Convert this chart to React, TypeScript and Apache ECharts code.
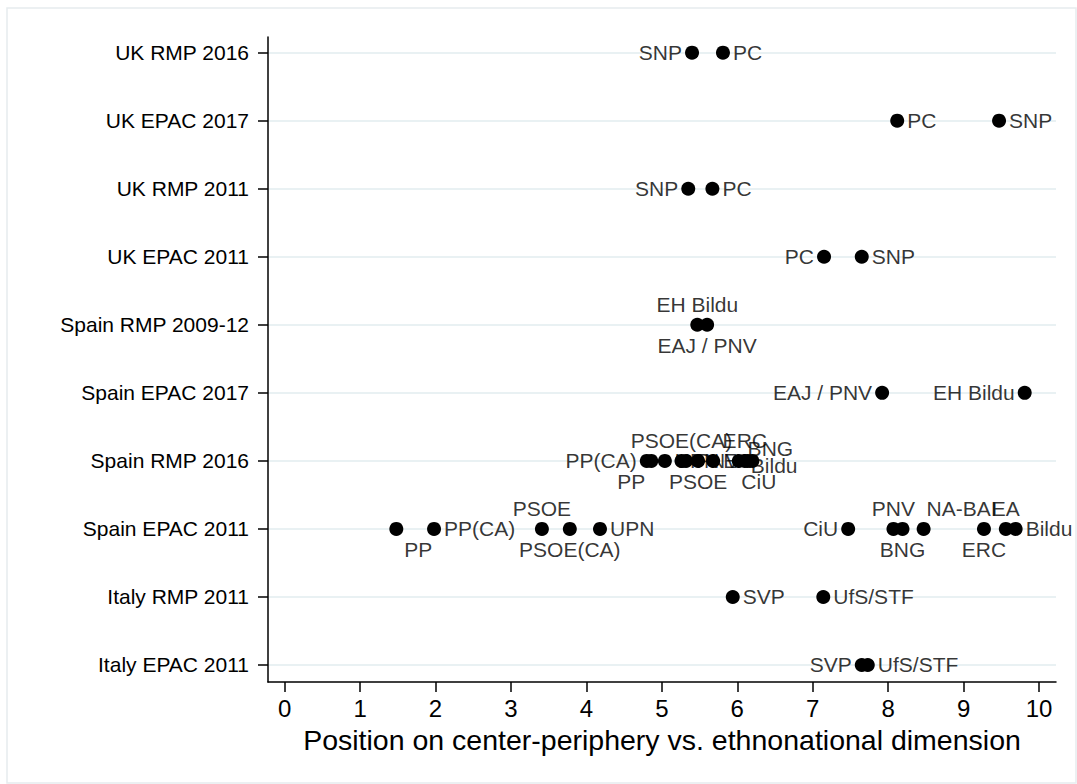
import React, { useEffect, useRef } from "react";
import * as echarts from "echarts";

const rowNames = [
  "UK RMP 2016",
  "UK EPAC 2017",
  "UK RMP 2011",
  "UK EPAC 2011",
  "Spain RMP 2009-12",
  "Spain EPAC 2017",
  "Spain RMP 2016",
  "Spain EPAC 2011",
  "Italy RMP 2011",
  "Italy EPAC 2011",
];

const xTicks = [0, 1, 2, 3, 4, 5, 6, 7, 8, 9, 10];

const pointRow = [
  0, 0,
  1, 1,
  2, 2,
  3, 3,
  4, 4,
  5, 5,
  6, 6, 6, 6, 6, 6, 6, 6, 6, 6, 6,
  7, 7, 7, 7, 7, 7, 7, 7, 7, 7, 7, 7,
  8, 8,
  9, 9,
];

const pointParty = [
  "SNP", "PC",
  "PC", "SNP",
  "SNP", "PC",
  "PC", "SNP",
  "EH Bildu", "EAJ / PNV",
  "EAJ / PNV", "EH Bildu",
  "PP(CA)", "PP", "UPN", "PSOE(CA)", "PNV", "PSOE", "EA", "ERC", "CiU", "Bildu", "BNG",
  "PP", "PP(CA)", "PSOE", "PSOE(CA)", "UPN", "CiU", "PNV", "BNG", "NA-BAI", "ERC", "EA", "Bildu",
  "SVP", "UfS/STF",
  "SVP", "UfS/STF",
];

const pointValue = [
  5.40, 5.81,
  8.12, 9.47,
  5.35, 5.67,
  7.15, 7.65,
  5.47, 5.60,
  7.92, 9.81,
  4.80, 4.86, 5.04, 5.26, 5.32, 5.48, 5.68, 6.02, 6.10, 6.14, 6.20,
  1.48, 1.98, 3.41, 3.78, 4.18, 7.47, 8.07, 8.19, 8.47, 9.27, 9.56, 9.69,
  5.94, 7.14,
  7.65, 7.73,
];

// label placement (style only): [position, dx, dy]
const labelPlacement: [string, number, number][] = [
  ["left", 0, 0], ["right", 0, 0],
  ["right", 0, 0], ["right", 0, 0],
  ["left", 0, 0], ["right", 0, 0],
  ["left", 0, 0], ["right", 0, 0],
  ["top", 0, 0], ["bottom", 0, 0],
  ["left", 0, 0], ["left", 0, 0],
  ["left", 0, 0], ["bottom", -20, 0], ["right", 0, 0], ["top", 0, 0], ["right", 0, 0],
  ["bottom", 0, 0], ["right", 0, 0], ["top", 6, 0], ["bottom", 14, 0], ["right", -7, 5], ["top", 18, 8],
  ["bottom", 22, 0], ["right", 0, 0], ["top", 0, 0], ["bottom", 0, 0], ["right", 0, 0], ["left", 0, 0],
  ["top", 0, 0], ["bottom", 0, 0], ["top", 38, 0], ["bottom", 0, 0], ["top", 0, 0], ["right", 0, 0],
  ["right", 0, 0], ["right", 0, 0],
  ["left", 0, 0], ["right", 0, 0],
];

const FONT = "'Liberation Sans', Arial, Helvetica, sans-serif";

export default function App() {
  const ref = useRef<HTMLDivElement>(null);

  useEffect(() => {
    document.body.style.margin = "0";
    if (!ref.current) return;
    const chart = echarts.init(ref.current, null, { renderer: "svg" });

    const labelData = pointValue.map((v, i) => {
      const [pos, dx, dy] = labelPlacement[i];
      return {
        value: [v, pointRow[i]],
        name: pointParty[i],
        label: { position: pos, offset: [dx, dy] },
      };
    });
    const dotData = pointValue.map((v, i) => [v, pointRow[i]]);

    chart.setOption({
      animation: false,
      backgroundColor: "#ffffff",
      tooltip: { show: false },
      graphic: [
        {
          type: "rect",
          shape: { x: 7, y: 8, width: 1069, height: 775 },
          style: { fill: "none", stroke: "#E6ECEE", lineWidth: 1.5 },
          silent: true,
          z: -10,
        },
      ],
      grid: { left: 268, right: 21, top: 37, bottom: 102, containLabel: false },
      xAxis: {
        type: "value",
        min: -0.221,
        max: 10.225,
        axisLine: { show: true, onZero: false, lineStyle: { color: "#000", width: 1.5 } },
        axisTick: {
          show: true,
          customValues: xTicks,
          length: 10,
          lineStyle: { color: "#000", width: 1.5 },
        },
        axisLabel: {
          customValues: xTicks,
          margin: 14,
          fontSize: 24,
          color: "#000",
          fontFamily: FONT,
        },
        splitLine: { show: false },
        name: "Position on center-periphery vs. ethnonational dimension",
        nameLocation: "middle",
        nameGap: 43,
        nameTextStyle: { fontSize: 28.5, color: "#000", fontFamily: FONT, verticalAlign: "top" },
      },
      yAxis: {
        type: "value",
        inverse: true,
        min: -0.23,
        max: 9.25,
        axisLine: { show: true, onZero: false, lineStyle: { color: "#000", width: 1.5 } },
        axisTick: {
          show: true,
          customValues: rowNames.map((_, i) => i),
          length: 10,
          lineStyle: { color: "#000", width: 1.5 },
        },
        axisLabel: {
          customValues: rowNames.map((_, i) => i),
          formatter: (v: number) => rowNames[Math.round(v)] ?? "",
          margin: 19,
          fontSize: 21,
          color: "#000",
          fontFamily: FONT,
        },
        splitLine: { show: true, lineStyle: { color: "#E9F1F3", width: 2 } },
      },
      series: [
        {
          type: "scatter",
          name: "labels",
          z: 1,
          symbol: "circle",
          symbolSize: 14,
          itemStyle: { color: "transparent" },
          label: {
            show: true,
            formatter: (p: any) => p.name,
            fontSize: 21,
            color: "#000",
            fontFamily: FONT,
            distance: 3,
          },
          data: labelData,
          silent: true,
        },
        {
          type: "scatter",
          name: "dots",
          z: 2,
          symbol: "circle",
          symbolSize: 14,
          itemStyle: { color: "#000", opacity: 1 },
          label: { show: false },
          data: dotData,
          silent: true,
        },
      ],
    });

    return () => chart.dispose();
  }, []);

  return <div ref={ref} style={{ width: 1077, height: 784 }} />;
}
